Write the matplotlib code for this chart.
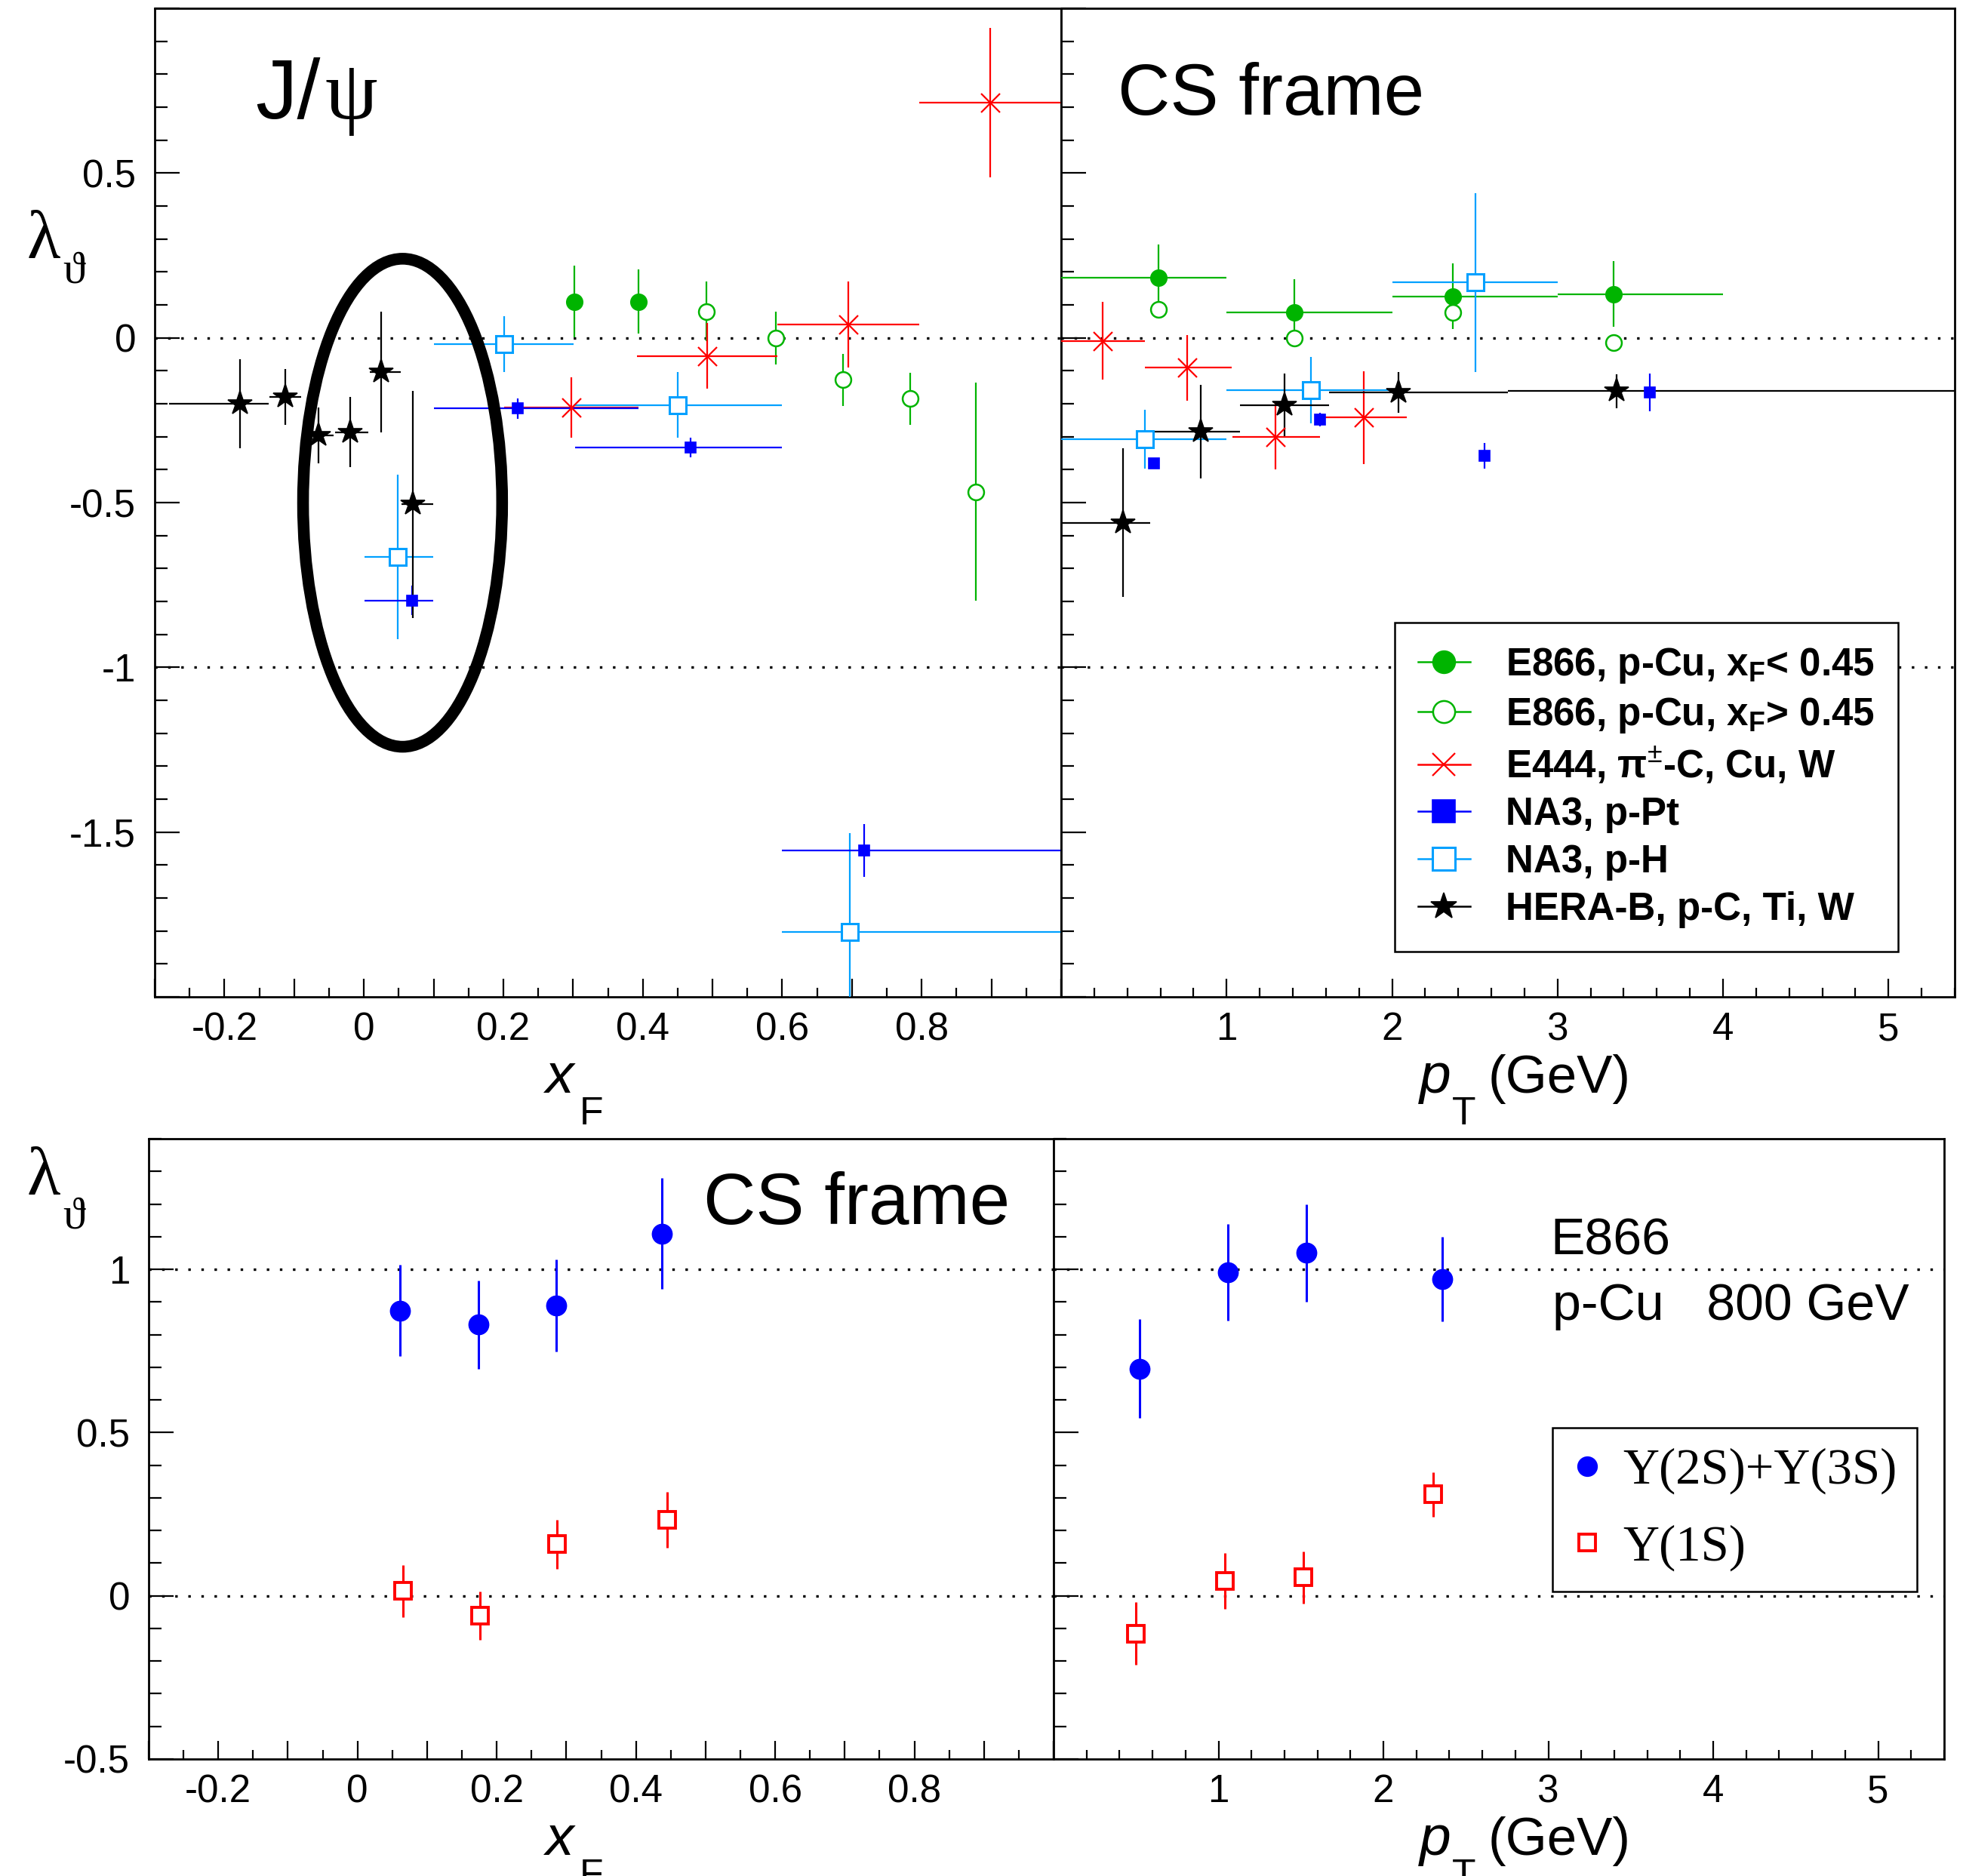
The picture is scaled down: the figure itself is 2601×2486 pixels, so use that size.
import matplotlib
matplotlib.use("Agg")
import matplotlib.pyplot as plt
import numpy as np
from matplotlib.lines import Line2D
from matplotlib.patches import Ellipse
from matplotlib.ticker import FuncFormatter, MultipleLocator

plt.rcParams["font.family"] = ["Liberation Sans", "DejaVu Sans"]
plt.rcParams["mathtext.fontset"] = "custom"
plt.rcParams["mathtext.rm"] = "Liberation Sans"
plt.rcParams["mathtext.it"] = "Liberation Sans:italic"
plt.rcParams["mathtext.bf"] = "Liberation Sans:bold"
plt.rcParams["axes.unicode_minus"] = False

GREEN = "#00b400"
BLUE = "#0000ff"
AZURE = "#00a0ff"
RED = "#ff0000"
SERIF = ["Liberation Serif", "DejaVu Serif"]

# ---- J/psi vs x_F (top left) ----
E866_LO_XF_X = [0.302, 0.394]
E866_LO_XF_Y = [0.110, 0.110]
E866_LO_XF_ERR = [0.108, 0.098]

E866_HI_XF_X = [0.491, 0.591, 0.687, 0.783, 0.878]
E866_HI_XF_Y = [0.080, 0.000, -0.127, -0.185, -0.467]
E866_HI_XF_ERR = [0.090, 0.080, 0.079, 0.080, 0.330]

E444_XF_X = [0.297, 0.492, 0.695, 0.898]
E444_XF_Y = [-0.211, -0.055, 0.041, 0.714]
E444_XF_LO = [0.201, 0.392, 0.593, 0.797]
E444_XF_HI = [0.394, 0.593, 0.797, 1.000]
E444_XF_ERR = [0.092, 0.100, 0.130, 0.227]

NA3PT_XF_X = [0.069, 0.221, 0.469, 0.717]
NA3PT_XF_Y = [-0.797, -0.214, -0.332, -1.556]
NA3PT_XF_LO = [0.001, 0.101, 0.303, 0.600]
NA3PT_XF_HI = [0.099, 0.394, 0.600, 1.000]
NA3PT_XF_ERR = [0.045, 0.031, 0.030, 0.080]

NA3H_XF_X = [0.049, 0.201, 0.450, 0.697]
NA3H_XF_Y = [-0.665, -0.019, -0.204, -1.803]
NA3H_XF_LO = [0.001, 0.101, 0.301, 0.600]
NA3H_XF_HI = [0.099, 0.301, 0.600, 1.000]
NA3H_XF_ERR = [0.250, 0.084, 0.100, 0.300]

HERAB_XF_X = [-0.178, -0.113, -0.065, -0.020, 0.025, 0.070]
HERAB_XF_Y = [-0.200, -0.180, -0.296, -0.286, -0.104, -0.505]
HERAB_XF_LO = [-0.279, -0.136, -0.077, -0.041, 0.008, 0.054]
HERAB_XF_HI = [-0.137, -0.090, -0.043, 0.006, 0.053, 0.099]
HERAB_XF_ERR = [0.135, 0.085, 0.085, 0.107, 0.183, 0.345]

# ---- J/psi vs pT (top right) ----
E866_LO_PT_X = [0.590, 1.410, 2.368, 3.337]
E866_LO_PT_Y = [0.183, 0.078, 0.126, 0.133]
E866_LO_PT_LO = [0.0, 1.0, 2.0, 3.0]
E866_LO_PT_HI = [1.0, 2.0, 3.0, 4.0]
E866_LO_PT_ERR = [0.100, 0.100, 0.100, 0.100]

E866_HI_PT_X = [0.590, 1.410, 2.368, 3.337]
E866_HI_PT_Y = [0.087, 0.000, 0.077, -0.015]

E444_PT_X = [0.252, 0.760, 1.297, 1.829]
E444_PT_Y = [-0.009, -0.091, -0.300, -0.242]
E444_PT_LO = [0.000, 0.507, 1.035, 1.563]
E444_PT_HI = [0.507, 1.031, 1.563, 2.091]
E444_PT_ERR = [0.118, 0.100, 0.100, 0.141]

NA3PT_PT_X = [0.562, 1.563, 2.560, 3.556]
NA3PT_PT_Y = [-0.381, -0.248, -0.358, -0.166]
NA3PT_PT_ERR = [0.015, 0.020, 0.039, 0.057]

NA3H_PT_X = [0.507, 1.508, 2.505]
NA3H_PT_Y = [-0.307, -0.159, 0.168]
NA3H_PT_LO = [0.0, 1.0, 2.0]
NA3H_PT_HI = [1.0, 2.0, 3.0]
NA3H_PT_ERR = [0.089, 0.101, 0.271]

HERAB_PT_X = [0.373, 0.846, 1.350, 2.040, 3.357]
HERAB_PT_Y = [-0.561, -0.285, -0.204, -0.165, -0.162]
HERAB_PT_LO = [0.000, 0.538, 1.080, 1.620, 2.700]
HERAB_PT_HI = [0.538, 1.080, 1.620, 2.700, 5.400]
HERAB_PT_ERR = [0.225, 0.142, 0.095, 0.062, 0.051]

# ---- Upsilon, E866 p-Cu 800 GeV (bottom) ----
UPS23_XF_X = [0.061, 0.174, 0.285, 0.437]
UPS23_XF_Y = [0.874, 0.831, 0.889, 1.109]
UPS23_XF_ERR = [0.140, 0.135, 0.141, 0.170]
UPS1_XF_X = [0.065, 0.176, 0.287, 0.445]
UPS1_XF_Y = [0.015, -0.061, 0.158, 0.233]
UPS1_XF_ERR = [0.080, 0.074, 0.075, 0.085]

UPS23_PT_X = [0.523, 1.057, 1.534, 2.359]
UPS23_PT_Y = [0.696, 0.991, 1.050, 0.970]
UPS23_PT_ERR = [0.152, 0.147, 0.150, 0.130]
UPS1_PT_X = [0.498, 1.037, 1.516, 2.300]
UPS1_PT_Y = [-0.116, 0.045, 0.056, 0.311]
UPS1_PT_ERR = [0.096, 0.085, 0.080, 0.068]

LEGEND_LABELS = [
    r"E866, p-Cu, x$_{\mathbf{F}}$< 0.45",
    r"E866, p-Cu, x$_{\mathbf{F}}$> 0.45",
    r"E444, π$^{\pm}$-C, Cu, W",
    "NA3, p-Pt",
    "NA3, p-H",
    "HERA-B, p-C, Ti, W",
]

STYLES = {
    "e866_lo": dict(marker="o", color=GREEN, ms=7.5, mfc=GREEN, mew=0.8),
    "e866_hi": dict(marker="o", color=GREEN, ms=7.5, mfc="white", mew=0.9),
    "e444": dict(marker="x", color=RED, ms=9, mfc=RED, mew=0.8),
    "na3pt": dict(marker="s", color=BLUE, ms=5.2, mfc=BLUE, mew=0.6),
    "na3h": dict(marker="s", color=AZURE, ms=8, mfc="white", mew=1.1),
    "herab": dict(marker="*", color="black", ms=12, mfc="black", mew=0.6),
}


def draw(ax, style, x, y, yerr=None, lo=None, hi=None, elw=0.8):
    xerr = None
    if lo is not None:
        xa = np.array(x)
        xerr = [xa - np.array(lo), np.array(hi) - xa]
    st = STYLES[style]
    ax.errorbar(x, y, yerr=yerr, xerr=xerr, fmt=st["marker"], color=st["color"],
                ms=st["ms"], mfc=st["mfc"], mec=st["color"], mew=st["mew"],
                elinewidth=elw, capsize=0, zorder=3)


def label_fmt(keep):
    def f(v, pos):
        v = round(v, 3)
        if not keep(v):
            return ""
        return "0" if v == 0 else f"{v:g}"
    return f


def style_axes(ax, xlim, ylim, xmaj, xmin, ylabels, xkeep):
    ax.set_xlim(*xlim)
    ax.set_ylim(*ylim)
    ax.xaxis.set_major_locator(MultipleLocator(xmaj))
    ax.xaxis.set_minor_locator(MultipleLocator(xmin))
    ax.yaxis.set_major_locator(MultipleLocator(0.5))
    ax.yaxis.set_minor_locator(MultipleLocator(0.1))
    ax.xaxis.set_major_formatter(FuncFormatter(label_fmt(xkeep)))
    if ylabels:
        ax.yaxis.set_major_formatter(FuncFormatter(label_fmt(
            lambda v: ylim[0] - 1e-6 <= v < ylim[1] - 1e-6 and not (v == ylim[0] and v < -1))))
    else:
        ax.yaxis.set_major_formatter(FuncFormatter(lambda v, p: ""))
    ax.tick_params(axis="both", which="both", direction="in", top=False, right=False,
                   width=0.8, labelsize=18.4, color="black")
    ax.tick_params(axis="x", which="major", length=8.5, pad=7)
    ax.tick_params(axis="x", which="minor", length=4.2)
    ax.tick_params(axis="y", which="major", length=11.9, pad=9)
    ax.tick_params(axis="y", which="minor", length=6.1)
    for sp in ax.spines.values():
        sp.set_linewidth(1.0)


def dotted(ax, levels):
    for lv in levels:
        ax.axhline(lv, color="black", lw=1.2, ls=(0, (1, 4.2)), zorder=1)


fig = plt.figure(figsize=(13.005, 12.43), dpi=200)
W, H = 2601.0, 2486.0


def px_axes(l, t, r, b):
    return fig.add_axes([l / W, 1 - b / H, (r - l) / W, (b - t) / H])


ax_tl = px_axes(205, 11, 1406, 1321)
ax_tr = px_axes(1406, 11, 2590, 1321)
ax_bl = px_axes(197, 1509, 1396, 2331)
ax_br = px_axes(1396, 1509, 2576, 2331)

xf_keep = lambda v: -0.25 < v < 0.85 and abs(round(v * 10)) % 2 == 0
pt_keep = lambda v: 0.5 < v < 5.2

style_axes(ax_tl, (-0.3, 1.0), (-2.0, 1.0), 0.1, 0.05, True, xf_keep)
style_axes(ax_tr, (0.0, 5.4), (-2.0, 1.0), 1.0, 0.2, False, pt_keep)
style_axes(ax_bl, (-0.3, 1.0), (-0.5, 1.4), 0.1, 0.05, True, xf_keep)
style_axes(ax_br, (0.0, 5.4), (-0.5, 1.4), 1.0, 0.2, False, pt_keep)

dotted(ax_tl, [0, -1])
dotted(ax_tr, [0, -1])
dotted(ax_bl, [0, 1])
dotted(ax_br, [0, 1])

# top left: x_F
draw(ax_tl, "e866_lo", E866_LO_XF_X, E866_LO_XF_Y, E866_LO_XF_ERR)
draw(ax_tl, "e866_hi", E866_HI_XF_X, E866_HI_XF_Y, E866_HI_XF_ERR)
draw(ax_tl, "e444", E444_XF_X, E444_XF_Y, E444_XF_ERR, E444_XF_LO, E444_XF_HI)
draw(ax_tl, "na3h", NA3H_XF_X, NA3H_XF_Y, NA3H_XF_ERR, NA3H_XF_LO, NA3H_XF_HI)
draw(ax_tl, "na3pt", NA3PT_XF_X, NA3PT_XF_Y, NA3PT_XF_ERR, NA3PT_XF_LO, NA3PT_XF_HI)
draw(ax_tl, "herab", HERAB_XF_X, HERAB_XF_Y, HERAB_XF_ERR, HERAB_XF_LO, HERAB_XF_HI)
ax_tl.add_patch(Ellipse((0.0555, -0.5005), 0.2855, 1.481, fill=False,
                        edgecolor="black", lw=5.6, zorder=4))
ax_tl.text(0.1107, 0.8885, "J/", transform=ax_tl.transAxes, fontsize=40,
           ha="left", va="baseline")
ax_tl.text(0.1875, 0.8885, "ψ", transform=ax_tl.transAxes, fontsize=40,
           family=SERIF, ha="left", va="baseline")

# top right: p_T
draw(ax_tr, "e866_lo", E866_LO_PT_X, E866_LO_PT_Y, E866_LO_PT_ERR, E866_LO_PT_LO, E866_LO_PT_HI)
draw(ax_tr, "e866_hi", E866_HI_PT_X, E866_HI_PT_Y)
draw(ax_tr, "e444", E444_PT_X, E444_PT_Y, E444_PT_ERR, E444_PT_LO, E444_PT_HI)
draw(ax_tr, "na3h", NA3H_PT_X, NA3H_PT_Y, NA3H_PT_ERR, NA3H_PT_LO, NA3H_PT_HI)
draw(ax_tr, "na3pt", NA3PT_PT_X, NA3PT_PT_Y, NA3PT_PT_ERR)
draw(ax_tr, "herab", HERAB_PT_X, HERAB_PT_Y, HERAB_PT_ERR, HERAB_PT_LO, HERAB_PT_HI)
ax_tr.text(0.0633, 0.8925, "CS frame", transform=ax_tr.transAxes, fontsize=34.6,
           ha="left", va="baseline")

handles = []
for key in ["e866_lo", "e866_hi", "e444", "na3pt", "na3h", "herab"]:
    st = STYLES[key]
    handles.append(Line2D([], [], color=st["color"], lw=0.9, marker=st["marker"],
                          ms=10.5 if key != "herab" else 13, mfc=st["mfc"],
                          mec=st["color"], mew=st["mew"]))
leg = ax_tr.legend(handles, LEGEND_LABELS, loc="upper left", bbox_to_anchor=(0.3735, 0.3784),
                   prop={"weight": "bold", "size": 18.4}, frameon=True, fancybox=False,
                   edgecolor="black", framealpha=1, handlelength=1.35, handletextpad=0.93,
                   borderpad=0.6, labelspacing=0.27, borderaxespad=0)
leg.get_frame().set_linewidth(0.9)
leg.set_zorder(5)

# bottom left: x_F
ax_bl.errorbar(UPS23_XF_X, UPS23_XF_Y, yerr=UPS23_XF_ERR, fmt="o", color=BLUE, ms=9,
               elinewidth=1.1, capsize=0, zorder=3)
ax_bl.errorbar(UPS1_XF_X, UPS1_XF_Y, yerr=UPS1_XF_ERR, fmt="s", color=RED, ms=8,
               mfc="white", mew=1.4, elinewidth=1.1, capsize=0, zorder=3)
ax_bl.text(0.6133, 0.8628, "CS frame", transform=ax_bl.transAxes, fontsize=34.6,
           ha="left", va="baseline")

# bottom right: p_T
ax_br.errorbar(UPS23_PT_X, UPS23_PT_Y, yerr=UPS23_PT_ERR, fmt="o", color=BLUE, ms=9,
               elinewidth=1.1, capsize=0, zorder=3)
ax_br.errorbar(UPS1_PT_X, UPS1_PT_Y, yerr=UPS1_PT_ERR, fmt="s", color=RED, ms=8,
               mfc="white", mew=1.4, elinewidth=1.1, capsize=0, zorder=3)
ax_br.text(0.5578, 0.8129, "E866", transform=ax_br.transAxes, fontsize=24.5,
           ha="left", va="baseline")
ax_br.text(0.5601, 0.7082, "p-Cu   800 GeV", transform=ax_br.transAxes, fontsize=24.5,
           ha="left", va="baseline")
uh = [Line2D([], [], ls="none", marker="o", color=BLUE, ms=8.8),
      Line2D([], [], ls="none", marker="s", color=RED, mfc="white", mew=1.4, ms=8)]
leg2 = ax_br.legend(uh, ["Υ(2S)+Υ(3S)", "Υ(1S)"], loc="upper left",
                    bbox_to_anchor=(0.560, 0.534), prop={"family": SERIF, "size": 24},
                    frameon=True, fancybox=False, edgecolor="black", framealpha=1,
                    handlelength=0.6, handletextpad=0.4, borderpad=0.4,
                    labelspacing=0.6, borderaxespad=0)
leg2.get_frame().set_linewidth(0.9)

# axis titles
for yb, ys in [(0.8624, 0.8492), (0.3632, 0.3455)]:
    fig.text(0.0138, yb, "λ", fontsize=33, family=SERIF, ha="left", va="baseline")
    fig.text(0.0319, ys, "ϑ", fontsize=21.6, family=SERIF, ha="left", va="baseline")

for yb, ys in [(0.4175, 0.4006), (0.0113, -0.0056)]:
    fig.text(0.278, yb, "x", fontsize=27, style="italic", ha="left", va="baseline")
    fig.text(0.2953, ys, "F", fontsize=18.6, ha="left", va="baseline")
    fig.text(0.7232, yb, "p", fontsize=27, style="italic", ha="left", va="baseline")
    fig.text(0.7397, ys, "T", fontsize=18.6, ha="left", va="baseline")
    fig.text(0.7582, yb, "(GeV)", fontsize=25.5, ha="left", va="baseline")

fig.savefig("out.png", dpi=200)
